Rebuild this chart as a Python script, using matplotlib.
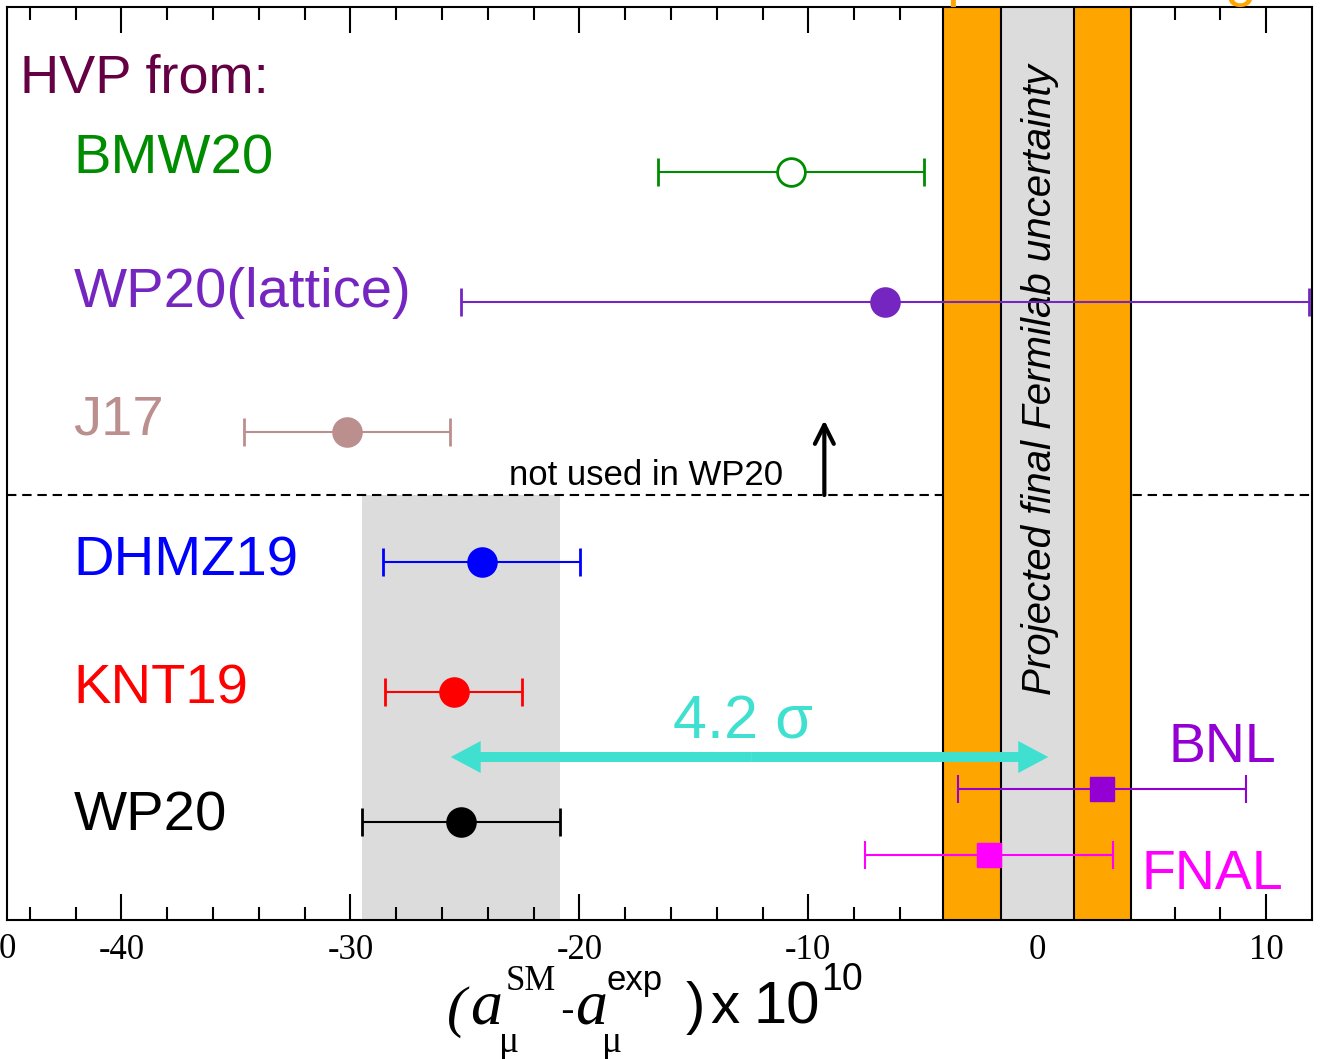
import numpy as np
import matplotlib
matplotlib.use('Agg')
import matplotlib.pyplot as plt
from matplotlib.patches import FancyArrow

# HVP evaluations, (a_mu^SM - a_mu^exp) x 1e10
names = ['BMW20', 'WP20(lattice)', 'J17', 'DHMZ19', 'KNT19', 'WP20']
values = [-10.75, -6.64, -30.16, -24.26, -25.48, -25.17]
errors = [5.81, 18.53, 4.50, 4.30, 2.99, 4.33]
rows = [6, 5, 4, 3, 2, 1]
colors = ['#008c00', '#7626c0', '#bc8f8f', '#0000ff', '#ff0000', '#000000']
filled = [False, True, True, True, True, True]

# experiments
exp_names = ['BNL', 'FNAL']
exp_values = [2.83, -2.10]
exp_errors = [6.30, 5.42]
exp_rows = [1.254, 0.748]
exp_colors = ['#9400d3', '#ff00ff']

# projected Fermilab uncertainty bands
band_outer = 4.1
band_inner = 1.6

W, H = 1326, 1059
fig = plt.figure(figsize=(W / 100, H / 100), dpi=100)
ax = fig.add_axes([7 / W, (H - 920) / H, (1312 - 7) / W, (920 - 7) / H])
ax.set_xlim(-45, 12)
ax.set_ylim(0.2462, 7.2692)

sans = 'Liberation Sans'
serif = 'Liberation Serif'

# WP20 band and separator
wp = names.index('WP20')
ax.fill_betweenx([0.2462, 3.515], values[wp] - errors[wp], values[wp] + errors[wp],
                 color='#dcdcdc', lw=0, zorder=1)
ax.axhline(3.515, color='k', lw=1.5, ls=(0, (4.5, 2.8)), zorder=1)

# Fermilab projection
ax.axvspan(-band_outer, band_outer, color='#ffa500', lw=0, zorder=2)
ax.axvspan(-band_inner, band_inner, color='#dcdcdc', lw=0, zorder=2)
for xv in [-band_outer, -band_inner, band_inner, band_outer]:
    ax.axvline(xv, color='k', lw=1.5, zorder=2.1)
ax.text(0.1, 4.4, 'Projected final Fermilab uncertainty', rotation=90,
        ha='center', va='center', fontsize=29, style='italic', family=sans, zorder=2.2)

for n, v, e, r, c, f in zip(names, values, errors, rows, colors, filled):
    ax.errorbar(v, r, xerr=e, fmt='o', color=c, ms=20, mfc=c if f else 'white',
                mec=c, mew=2, elinewidth=1.5, capsize=10, capthick=1.5, zorder=3)

for n, v, e, r, c in zip(exp_names, exp_values, exp_errors, exp_rows, exp_colors):
    ax.errorbar(v, r, xerr=e, fmt='s', color=c, ms=17, elinewidth=1.5,
                capsize=10, capthick=1.5, zorder=3)

# labels
lab_y = [5.992, 4.964, 3.977, 2.90, 1.915, 0.938]
for n, c, yy in zip(names, colors, lab_y):
    ax.text(-42.1, yy, n, color=c, fontsize=40.5, family=sans, va='baseline', zorder=4)
ax.text(-44.45, 6.615, 'HVP from:', color='#660044', fontsize=39, family=sans, va='baseline')
ax.text(5.75, 1.46, 'BNL', color=exp_colors[0], fontsize=40, family=sans, va='baseline')
ax.text(4.55, 0.485, 'FNAL', color=exp_colors[1], fontsize=40, family=sans, va='baseline')

ax.text(-17.1, 3.592, 'not used in WP20', fontsize=25, family=sans, ha='center', va='baseline')
ax.annotate('', xy=(-9.3, 4.09), xytext=(-9.3, 3.515),
            arrowprops=dict(arrowstyle='->', lw=3, mutation_scale=34,
                            shrinkA=0, shrinkB=0, color='k'))

# 4.2 sigma arrow
mid = -12.5
for tip in [-25.62, 0.48]:
    ax.add_patch(FancyArrow(mid, 1.5, tip - mid, 0, width=0.077, head_width=0.246,
                            head_length=1.31, length_includes_head=True,
                            color='#40e0d0', lw=0, zorder=4))
ax.text(-12.87, 1.646, '4.2 σ', color='#40e0d0', fontsize=44, family=sans,
        ha='center', va='baseline', zorder=4)

# axes styling
ax.set_xticks(np.arange(-40, 11, 10))
ax.set_xticks(np.arange(-44, 12, 2), minor=True)
ax.set_xticklabels(['-40', '-30', '-20', '-10', '0', '10'])
ax.set_yticks([])
ax.tick_params(axis='x', which='both', direction='in', top=True, bottom=True,
               width=1.5, labelsize=25, pad=10)
ax.tick_params(axis='x', which='major', length=19)
ax.tick_params(axis='x', which='minor', length=9.5)
for lbl in ax.get_xticklabels():
    lbl.set_family(serif)
for s in ax.spines.values():
    s.set_linewidth(1.5)
    s.set_zorder(5)

# cut-off tick label at the left edge
fig.text(7 / W, 1 - 958 / H, '0', fontsize=25, family=serif, ha='center', va='baseline')

# axis title built from pieces
def ft(px, py, s, **kw):
    fig.text(px / W, 1 - py / H, s, va='baseline', **kw)

ft(447, 1026, '(', fontsize=42, family=serif, style='italic')
ft(470, 1023, 'a', fontsize=46, family=serif, style='italic')
ft(499, 1052, 'μ', fontsize=27, family=serif)
ft(506, 990, 'SM', fontsize=25, family=serif)
ft(560, 1023, '-', fontsize=30, family=sans)
ft(575, 1023, 'a', fontsize=46, family=serif, style='italic')
ft(602, 1052, 'μ', fontsize=27, family=serif)
ft(606, 990, 'exp', fontsize=25, family=sans)
ft(686, 1023, ')', fontsize=42, family=sans)
ft(710, 1023, 'x', fontsize=42, family=sans)
ft(753, 1023, '10', fontsize=43, family=sans)
ft(821, 990, '10', fontsize=27, family=sans)

# orange title remnants at the top edge
ft(946, -5, 'p', fontsize=41, family=sans, color='#ffa500')
ft(1225, -5, 'g', fontsize=41, family=sans, color='#ffa500')

fig.savefig('out.png', dpi=100)
